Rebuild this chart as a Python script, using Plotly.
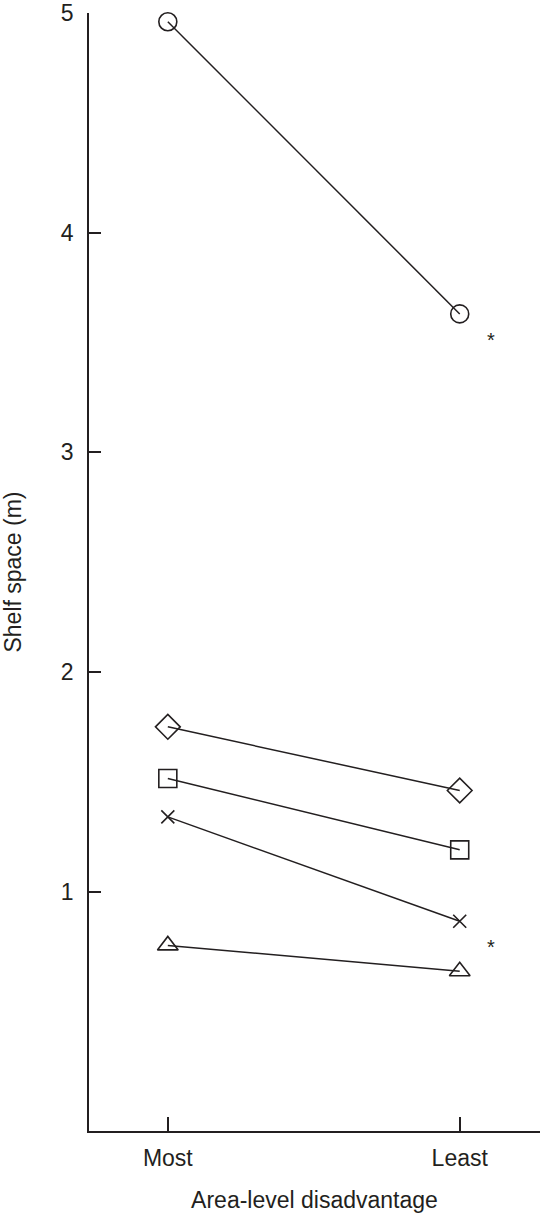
"""Shelf space by area-level disadvantage (Plotly slope chart)."""

import plotly.graph_objects as go

INK = "#231f20"
FONT = "Liberation Sans, Arial, sans-serif"

categories = ["Most", "Least"]

# one entry per product group; markers as in the original figure
group_names = ["Group A", "Group B", "Group C", "Group D", "Group E"]
group_symbols = ["circle-open", "diamond-open", "square-open", "x-thin-open", "triangle-up-open"]
group_sizes = [18, 19, 18, 13, 18]
most_values = [4.96, 1.75, 1.515, 1.34, 0.755]
least_values = [3.63, 1.46, 1.19, 0.865, 0.637]
significant = [True, False, False, True, False]

yticks = [1, 2, 3, 4, 5]

fig = go.Figure()
for name, sym, size, a, b in zip(group_names, group_symbols, group_sizes, most_values, least_values):
    fig.add_trace(
        go.Scatter(
            x=categories,
            y=[a, b],
            name=name,
            mode="lines+markers",
            line=dict(color=INK, width=1.5),
            marker=dict(symbol=sym, size=size, color=INK, line=dict(color=INK, width=1.6)),
            hoverinfo="x+y+name",
            cliponaxis=False,
        )
    )

# asterisks for significant differences
for b, sig in zip(least_values, significant):
    if sig:
        fig.add_annotation(
            x=categories[1], y=b, text="*", showarrow=False,
            xshift=31, yshift=-26, font=dict(family=FONT, size=20, color=INK),
        )

axis_common = dict(
    showline=True,
    linecolor=INK,
    linewidth=1.5,
    ticks="inside",
    tickcolor=INK,
    tickwidth=1.5,
    showgrid=False,
    zeroline=False,
    ticklabeloverflow="allow",
    tickfont=dict(family=FONT, size=23, color=INK),
    title_font=dict(family=FONT, size=23, color=INK),
)

fig.update_xaxes(
    type="category",
    range=[-0.27, 1.275],
    ticklen=14,
    ticklabelstandoff=6,
    title_text="Area-level disadvantage",
    title_standoff=22,
    **axis_common,
)
fig.update_yaxes(
    range=[-0.09, 5],
    tickvals=yticks,
    ticklen=12,
    ticklabelstandoff=9,
    title_text="Shelf space (m)",
    title_standoff=34,
    **axis_common,
)

fig.update_layout(
    width=540,
    height=1213,
    margin=dict(l=89, r=0, t=11, b=82),
    showlegend=False,
    plot_bgcolor="white",
    paper_bgcolor="white",
    font=dict(family=FONT, color=INK),
)

fig.write_html(
    "out.html",
    config={"displayModeBar": False},
    post_script="document.body.style.margin='0px';document.body.style.overflow='hidden';",
)
